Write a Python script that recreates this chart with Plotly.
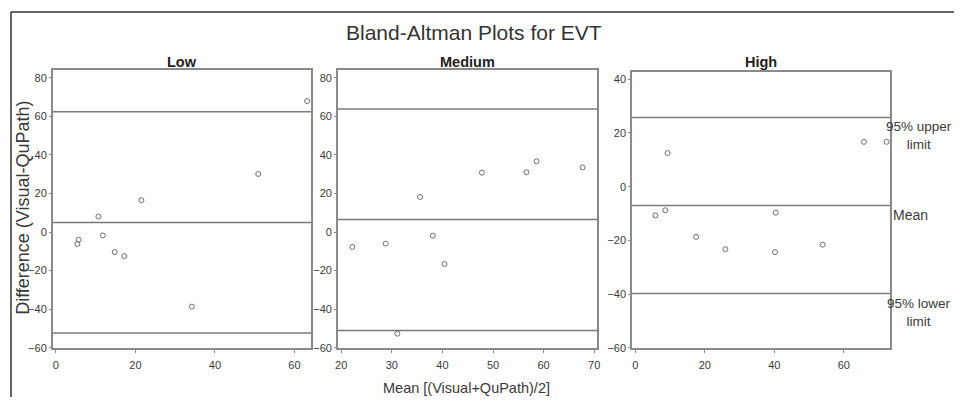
import plotly.graph_objects as go

# page is rendered with an 8px body margin, so the figure is offset by 8px
OFF = 8
W, H = 965 - 2 * OFF, 411 - 2 * OFF

panel_names = ["Low", "Medium", "High"]

low_x = [63.2, 50.9, 21.5, 10.7, 11.8, 5.7, 5.4, 14.8, 17.2, 34.2]
low_diff = [67.9, 30.1, 16.5, 8.0, -1.8, -4.0, -6.2, -10.4, -12.5, -38.7]

medium_x = [22.2, 28.8, 31.1, 35.6, 38.1, 40.4, 47.8, 56.6, 58.6, 67.7]
medium_diff = [-7.7, -6.0, -52.7, 18.2, -1.9, -16.6, 30.8, 31.0, 36.7, 33.5]

high_x = [5.8, 8.6, 9.3, 17.5, 25.9, 40.4, 40.2, 53.9, 65.8, 72.3]
high_diff = [-10.7, -8.8, 12.5, -18.7, -23.3, -9.7, -24.4, -21.6, 16.7, 16.7]

# mean difference and 95% limits of agreement per panel
bias = [5.0, 6.5, -7.0]
upper_loa = [62.4, 63.8, 25.8]
lower_loa = [-52.4, -51.0, -39.8]

x_ticks = [[0, 20, 40, 60], [20, 30, 40, 50, 60, 70], [0, 20, 40, 60]]
y_ticks = [[-60, -40, -20, 0, 20, 40, 60, 80], [-60, -40, -20, 0, 20, 40, 60, 80],
           [-60, -40, -20, 0, 20, 40]]

xs = [low_x, medium_x, high_x]
ys = [low_diff, medium_diff, high_diff]


def px(p):
    return (p - OFF) / W


def py(p):
    return 1 - (p - OFF) / H


# layout geometry (page pixels)
x_dom_px = [(50, 310), (337, 598), (633, 893)]
y_dom_px = [(71, 353), (71, 353), (73, 353)]
x_ranges = [[-0.8, 64.2], [19.35, 70.6], [-0.94, 73.4]]
y_ranges = [[-60, 84], [-60, 84], [-60, 42.7]]

FONT = "Liberation Sans, Arial, sans-serif"
TXT = "#3a3a3a"
BOX = "#8a8a8a"
LINE = "#7a7a7a"

fig = go.Figure()
for i in range(3):
    sfx = "" if i == 0 else str(i + 1)
    fig.add_trace(go.Scatter(
        x=xs[i], y=ys[i], mode="markers",
        xaxis="x" + sfx, yaxis="y" + sfx,
        marker=dict(symbol="circle-open", size=5, color="#6e6e6e", line=dict(width=1, color="#6e6e6e")),
        showlegend=False, hoverinfo="x+y"))
    x0, x1 = x_dom_px[i]
    y0, y1 = y_dom_px[i]
    fig.update_layout(**{
        "xaxis" + sfx: dict(domain=[px(x0), px(x1)], range=x_ranges[i], tickvals=x_ticks[i],
                           showline=True, mirror=True, linecolor=BOX, linewidth=1.5,
                           ticks="outside", ticklen=3, tickcolor=BOX, showgrid=False, zeroline=False,
                           ticklabelstandoff=3,
                           tickfont=dict(family=FONT, size=11, color=TXT),
                           anchor="y" + sfx),
        "yaxis" + sfx: dict(domain=[py(y1), py(y0)], range=y_ranges[i], tickvals=y_ticks[i],
                           showline=True, mirror=True, linecolor=BOX, linewidth=1.5,
                           ticks="outside", ticklen=2, tickcolor=BOX, showgrid=False, zeroline=False,
                           tickfont=dict(family=FONT, size=11, color=TXT),
                           anchor="x" + sfx),
    })
    for val in (upper_loa[i], bias[i], lower_loa[i]):
        fig.add_shape(type="line", xref="x" + sfx + " domain", yref="y" + sfx,
                      x0=0, x1=1, y0=val, y1=val, line=dict(color=LINE, width=1.5))
    fig.add_annotation(text="<b>" + panel_names[i] + "</b>", xref="paper", yref="paper",
                       x=px((x0 + x1) / 2), y=py(63), xanchor="center", yanchor="middle",
                       showarrow=False, font=dict(family=FONT, size=14.5, color="#222"))

# right-side labels on the High panel
fig.add_annotation(text="95% upper<br>limit", xref="paper", yref="y3", x=px(922), y=upper_loa[2],
                   xanchor="center", yanchor="top", showarrow=False, align="center",
                   font=dict(family=FONT, size=13.5, color=TXT))
fig.add_annotation(text="Mean", xref="paper", yref="y3", x=px(894), y=bias[2],
                   xanchor="left", yanchor="top", yshift=0, showarrow=False,
                   font=dict(family=FONT, size=14, color=TXT))
fig.add_annotation(text="95% lower<br>limit", xref="paper", yref="y3", x=px(922), y=lower_loa[2],
                   xanchor="center", yanchor="top", showarrow=False, align="center",
                   font=dict(family=FONT, size=13.5, color=TXT))

# titles
fig.add_annotation(text="Bland-Altman Plots for EVT", xref="paper", yref="paper",
                   x=px(474), y=py(33), xanchor="center", yanchor="middle", showarrow=False,
                   font=dict(family=FONT, size=21, color="#333"))
fig.add_annotation(text="Difference (Visual-QuPath)", xref="paper", yref="paper",
                   x=px(20), y=py(211), xanchor="center", yanchor="middle", textangle=-90,
                   showarrow=False, font=dict(family=FONT, size=18, color=TXT))
fig.add_annotation(text="Mean [(Visual+QuPath)/2]", xref="paper", yref="paper",
                   x=px(466), y=py(394), xanchor="center", yanchor="middle", showarrow=False,
                   font=dict(family=FONT, size=14.5, color=TXT))

# outer frame (left and top edges visible)
fig.add_shape(type="line", xref="paper", yref="paper", x0=px(8), x1=px(8), y0=0, y1=py(12),
              line=dict(color="#333", width=1.5))
fig.add_shape(type="line", xref="paper", yref="paper", x0=px(8), x1=1, y0=py(12), y1=py(12),
              line=dict(color="#333", width=1.5))

fig.update_layout(width=W, height=H, margin=dict(l=0, r=0, t=0, b=0),
                  paper_bgcolor="white", plot_bgcolor="white", showlegend=False)

fig.write_html("out.html")
